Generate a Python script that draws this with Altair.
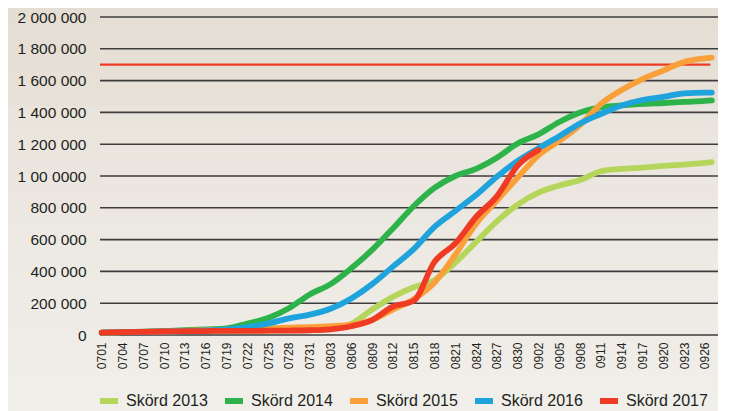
import altair as alt
import pandas as pd

# ---------------- data ----------------
days = [0, 3, 6, 9, 12, 15, 18, 21, 24, 27, 30, 33, 36, 39, 42, 45, 48, 51, 54, 57,
        60, 63, 66, 69, 72, 75, 78, 81, 84, 87, 88]

date_labels = ["0701", "0704", "0707", "0710", "0713", "0716", "0719", "0722", "0725", "0728",
               "0731", "0803", "0806", "0809", "0812", "0815", "0818", "0821", "0824", "0827",
               "0830", "0902", "0905", "0908", "0911", "0914", "0917", "0920", "0923", "0926"]
x_ticks = [0, 3, 6, 9, 12, 15, 18, 21, 24, 27, 30, 33, 36, 39, 42, 45, 48, 51, 54, 57,
           60, 63, 66, 69, 72, 75, 78, 81, 84, 87]

series_names = ["Skörd 2013", "Skörd 2014", "Skörd 2015", "Skörd 2016", "Skörd 2017"]
series_colors = ["#b6d55b", "#2db34a", "#f9a03a", "#1ea3dc", "#ef3b24"]

# values in thousands
s2013 = [15, 18, 20, 22, 24, 25, 26, 27, 28, 30, 33, 40, 70, 160, 240, 300, 345, 455, 585, 715,
         820, 895, 940, 975, 1030, 1045, 1053, 1063, 1072, 1083, 1087]
s2014 = [15, 18, 21, 25, 30, 36, 42, 72, 107, 168, 255, 320, 420, 535, 670, 810, 925, 1000, 1045, 1115,
         1205, 1262, 1340, 1400, 1432, 1444, 1453, 1459, 1466, 1472, 1475]
s2015 = [15, 18, 20, 23, 26, 30, 34, 38, 42, 46, 50, 56, 65, 95, 160, 225, 330, 505, 700, 845,
         990, 1130, 1220, 1321, 1453, 1541, 1610, 1663, 1717, 1740, 1745]
s2016 = [15, 18, 20, 22, 25, 29, 36, 50, 72, 105, 128, 165, 230, 320, 430, 540, 680, 780, 880, 995,
         1095, 1175, 1250, 1330, 1390, 1444, 1478, 1497, 1520, 1525, 1525]
s2017 = [15, 18, 20, 22, 24, 25, 26, 26, 27, 28, 30, 36, 55, 94, 178, 215, 460, 575, 742, 872,
         1065, 1163]

target_value = 1700000
target_start = -0.25
target_end = 87.8

y_ticks = [0, 200000, 400000, 600000, 800000, 1000000, 1200000, 1400000, 1600000, 1800000, 2000000]
y_labels = ["0", "200 000", "400 000", "600 000", "800 000", "1 00 0000",
            "1 200 000", "1 400 000", "1 600 000", "1 800 000", "2 000 000"]

rows = []
for name, vals in zip(series_names, [s2013, s2014, s2015, s2016, s2017]):
    for d, v in zip(days, vals):
        rows.append({"day": d, "value": v * 1000, "series": name})
df = pd.DataFrame(rows)

FONT = "Liberation Sans"
TXT = "#231f20"

x_label_expr = "[" + ",".join(f"'{l}'" for l in date_labels) + "][round(datum.value/3)]"
y_label_expr = "[" + ",".join(f"'{l}'" for l in y_labels) + "][round(datum.value/200000)]"

xscale = alt.Scale(domain=[-0.25, 88.9], nice=False, zero=False)
yscale = alt.Scale(domain=[0, 2000000], nice=False)

x_axis = alt.Axis(values=x_ticks, labelExpr=x_label_expr, labelAngle=-90,
                  grid=False, ticks=False, domain=False, labelPadding=7,
                  labelFontSize=12, labelFont=FONT, labelColor=TXT, zindex=1, title=None)
y_axis = alt.Axis(values=y_ticks, labelExpr=y_label_expr, grid=False, ticks=False,
                  domain=False, labelPadding=14, labelFontSize=15.5, labelFont=FONT,
                  labelColor=TXT, zindex=1, title=None)

bg = alt.Chart(alt.Data(values=[{"k": 1}])).mark_rect(
    clip=False,
    fill=alt.Gradient(
        gradient="linear", x1=0, x2=0, y1=0, y2=1,
        stops=[
            alt.GradientStop(offset=0, color="#e4ddd3"),
            alt.GradientStop(offset=0.245, color="#e7e1d8"),
            alt.GradientStop(offset=0.25, color="#e9e4dc"),
            alt.GradientStop(offset=1, color="#f2f0ec"),
        ],
    ),
).encode(x=alt.value(-110), x2=alt.value(640), y=alt.value(-20), y2=alt.value(420))

grid = alt.Chart(pd.DataFrame({"v": y_ticks})).mark_rule(
    color="#3d3d3d", strokeWidth=1.6
).encode(y=alt.Y("v:Q", scale=yscale, axis=y_axis))

target = alt.Chart(pd.DataFrame({"s": [target_start], "e": [target_end], "v": [target_value]})).mark_rule(
    color="#ef3b24", strokeWidth=2.2
).encode(
    x=alt.X("s:Q", scale=xscale, axis=x_axis),
    x2="e:Q",
    y=alt.Y("v:Q", scale=yscale, axis=y_axis),
)

lines = alt.Chart(df).mark_line(
    strokeWidth=5.8, strokeCap="round", strokeJoin="round", interpolate="monotone"
).encode(
    x=alt.X("day:Q", scale=xscale, axis=x_axis),
    y=alt.Y("value:Q", scale=yscale, axis=y_axis),
    color=alt.Color("series:N", scale=alt.Scale(domain=series_names, range=series_colors),
                    legend=alt.Legend(title=None, orient="none", legendX=-3, legendY=372,
                                      direction="horizontal", symbolType="stroke",
                                      symbolSize=324, symbolStrokeWidth=6,
                                      labelFontSize=16, labelFont=FONT, labelColor=TXT,
                                      labelOffset=5, columnPadding=5, padding=0)),
)

chart = alt.layer(bg, grid, target, lines).properties(
    width=618, height=318,
    autosize=alt.AutoSizeParams(type="none"),
    padding={"left": 92, "top": 9, "right": 0, "bottom": 76},
    background="#ece8e2",
).configure_view(stroke=None)

chart.save("out.html", embed_options={"renderer": "svg", "actions": False})
